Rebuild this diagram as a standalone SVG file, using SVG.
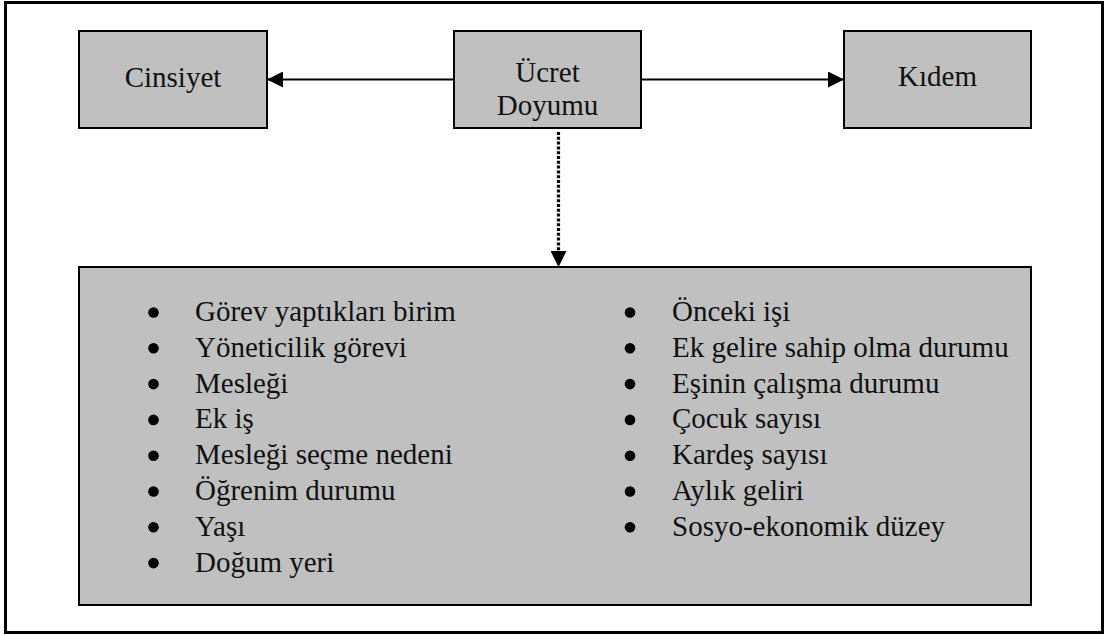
<svg xmlns="http://www.w3.org/2000/svg" width="1106" height="635" viewBox="0 0 1106 635">
  <style>
    .box { fill: #c0c0c0; stroke: #000; stroke-width: 2; }
    .conn { stroke: #000; stroke-width: 2; fill: none; }
    .dot { fill: #000; }
  </style>
  <defs>
    <marker id="arrow" viewBox="0 0 16 16" refX="16" refY="8" markerWidth="16" markerHeight="16" markerUnits="userSpaceOnUse" orient="auto">
      <path d="M0,0 L16,8 L0,16 Z" fill="#000"/>
    </marker>
  </defs>

  <!-- outer frame -->
  <rect x="5.5" y="2.5" width="1097" height="630" fill="#fff" stroke="#000" stroke-width="3"/>

  <!-- connectors -->
  <g id="connectors">
    <line class="conn" x1="454" y1="79.5" x2="267" y2="79.5" marker-end="url(#arrow)"/>
    <line class="conn" x1="641" y1="79.5" x2="844" y2="79.5" marker-end="url(#arrow)"/>
    <line x1="558.5" y1="132" x2="558.5" y2="267" fill="none" stroke="#000" stroke-width="3.2" stroke-dasharray="3 1.8" marker-end="url(#arrow)"/>
  </g>

  <g id="node-cinsiyet">
    <rect class="box" x="79" y="31" width="188" height="97"/>
    <text x="173" y="87" font-family="Times New Roman" font-size="29" fill="#111" text-anchor="middle">Cinsiyet</text>
  </g>

  <g id="node-ucret">
    <rect class="box" x="454" y="31" width="187" height="97"/>
    <text x="547.5" y="82" font-family="Times New Roman" font-size="29" fill="#111" text-anchor="middle">Ücret</text>
    <text x="547.5" y="115" font-family="Times New Roman" font-size="29" fill="#111" text-anchor="middle">Doyumu</text>
  </g>

  <g id="node-kidem">
    <rect class="box" x="844" y="31" width="187" height="97"/>
    <text x="937.5" y="86" font-family="Times New Roman" font-size="29" fill="#111" text-anchor="middle">Kıdem</text>
  </g>

  <g id="node-factors">
    <rect class="box" x="79" y="267" width="952" height="338"/>
    <!-- left column -->
    <g>
      <circle class="dot" cx="153.5" cy="312.5" r="5.3"/>
      <circle class="dot" cx="153.5" cy="348.3" r="5.3"/>
      <circle class="dot" cx="153.5" cy="384.1" r="5.3"/>
      <circle class="dot" cx="153.5" cy="419.9" r="5.3"/>
      <circle class="dot" cx="153.5" cy="455.7" r="5.3"/>
      <circle class="dot" cx="153.5" cy="491.5" r="5.3"/>
      <circle class="dot" cx="153.5" cy="527.3" r="5.3"/>
      <circle class="dot" cx="153.5" cy="563.1" r="5.3"/>
      <text x="195" y="321" font-family="Times New Roman" font-size="29" fill="#111">Görev yaptıkları birim</text>
      <text x="195" y="356.8" font-family="Times New Roman" font-size="29" fill="#111">Yöneticilik görevi</text>
      <text x="195" y="392.6" font-family="Times New Roman" font-size="29" fill="#111">Mesleği</text>
      <text x="195" y="428.4" font-family="Times New Roman" font-size="29" fill="#111">Ek iş</text>
      <text x="195" y="464.2" font-family="Times New Roman" font-size="29" fill="#111">Mesleği seçme nedeni</text>
      <text x="195" y="500" font-family="Times New Roman" font-size="29" fill="#111">Öğrenim durumu</text>
      <text x="195" y="535.8" font-family="Times New Roman" font-size="29" fill="#111">Yaşı</text>
      <text x="195" y="571.6" font-family="Times New Roman" font-size="29" fill="#111">Doğum yeri</text>
    </g>
    <!-- right column -->
    <g>
      <circle class="dot" cx="630" cy="312.5" r="5.3"/>
      <circle class="dot" cx="630" cy="348.3" r="5.3"/>
      <circle class="dot" cx="630" cy="384.1" r="5.3"/>
      <circle class="dot" cx="630" cy="419.9" r="5.3"/>
      <circle class="dot" cx="630" cy="455.7" r="5.3"/>
      <circle class="dot" cx="630" cy="491.5" r="5.3"/>
      <circle class="dot" cx="630" cy="527.3" r="5.3"/>
      <text x="672" y="321" font-family="Times New Roman" font-size="29" fill="#111">Önceki işi</text>
      <text x="672" y="356.8" font-family="Times New Roman" font-size="29" fill="#111">Ek gelire sahip olma durumu</text>
      <text x="672" y="392.6" font-family="Times New Roman" font-size="29" fill="#111">Eşinin çalışma durumu</text>
      <text x="672" y="428.4" font-family="Times New Roman" font-size="29" fill="#111">Çocuk sayısı</text>
      <text x="672" y="464.2" font-family="Times New Roman" font-size="29" fill="#111">Kardeş sayısı</text>
      <text x="672" y="500" font-family="Times New Roman" font-size="29" fill="#111">Aylık geliri</text>
      <text x="672" y="535.8" font-family="Times New Roman" font-size="29" fill="#111">Sosyo-ekonomik düzey</text>
    </g>
  </g>
</svg>
